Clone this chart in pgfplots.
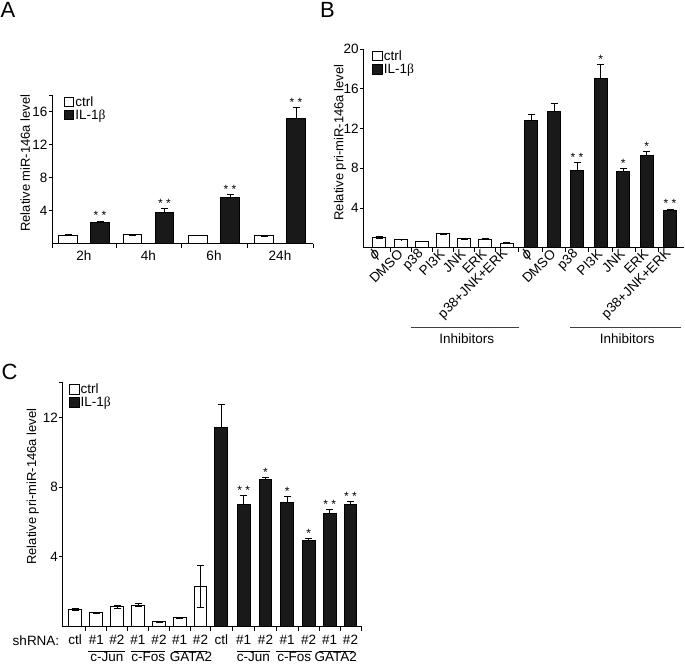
\documentclass[border=0pt]{standalone}
\usepackage{pgfplots}
\pgfplotsset{compat=1.18}
\usepackage{fontspec}
\setmainfont{Liberation Sans}
\newfontfamily\grk{Liberation Serif}
\newfontfamily\djs{DejaVu Sans}
\newcommand{\ILb}{IL-1{\grk β}}
\newcommand{\ph}{{\djs\itshape ϕ}}
\newcommand{\fs}{\fontsize{13.5}{16}\selectfont}

\pgfplotsset{
  legend image code/.code={\draw[#1, line width=0.9pt] (0pt,-4.7pt) rectangle (9.5pt,4.7pt);},
  panel/.style={
    scale only axis, anchor=south west,
    axis x line=bottom, axis y line=left,
    axis line style={-, line width=1pt},
    ymin=0,
    tick align=outside, major tick length=3.5pt, minor tick length=4pt,
    tick style={black, line width=1pt},
    major x tick style={draw=none},
    minor x tick style={draw=black, line width=1pt},
    tick label style={font=\fs},
    yticklabel style={inner sep=1pt},
    label style={font=\fontsize{13}{15}\selectfont},
    /pgf/number format/assume math mode=true,
    legend style={draw=none, fill=none, anchor=north west, inner sep=0pt,
                  font=\fs, row sep=0pt, nodes={inner sep=1pt}},
    legend cell align=left,
    clip=false,
  },
  ctrlbar/.style={ybar, bar shift=0pt, draw=black, fill=white, line width=1pt,
    error bars/y dir=both, error bars/y explicit,
    error bars/error bar style={line width=1pt, black},
    error bars/error mark options={rotate=90, mark size=3.5pt, line width=1pt, black}},
  ilbar/.style={ybar, bar shift=0pt, draw=black, fill=black!90, line width=1pt,
    error bars/y dir=plus, error bars/y explicit,
    error bars/error bar style={line width=1pt, black},
    error bars/error mark options={rotate=90, mark size=3.5pt, line width=1pt, black}},
  stars/.style={draw=none, mark=none, forget plot, nodes near coords,
    point meta=explicit symbolic, nodes near coords align={anchor=south},
    every node near coord/.append style={font=\fontsize{12}{12}\selectfont, inner sep=1pt}},
}

\begin{document}
\begin{tikzpicture}
\useasboundingbox (0pt,0pt) rectangle (685pt,664pt);

% ---------------- Panel A ----------------
\begin{axis}[panel, at={(52pt,420.3pt)}, width=261pt, height=148.5pt,
  xmin=52, xmax=313, ymax=18,
  xtick={84,148.5,214,280}, xticklabels={2h,4h,6h,24h},
  minor xtick={52,116,181,247,313},
  ytick={4,8,12,16}, extra y ticks={18}, extra y tick labels={},
  ylabel={Relative miR-146a level},
  ylabel style={at={(axis description cs:-0.103,0.543)}, anchor=center},
  legend style={at={(axis description cs:0.045,1.0)}},
]
\addplot[ctrlbar, bar width=18.5pt] coordinates {
  (68,1.05) +- (0,0.1) (132.5,1.1) +- (0,0.05) (198,1.0) +- (0,0.02) (264,0.95) +- (0,0.02)};
\addlegendentry{ctrl}
\addplot[ilbar, bar width=18.5pt] coordinates {
  (100,2.55) +- (0,0.2) (164.5,3.8) +- (0,0.48) (230,5.58) +- (0,0.4) (296,15.19) +- (0,1.29)};
\addlegendentry{\ILb}
\addplot[stars] coordinates {
  (100,2.75) [* *] (164.5,4.28) [* *] (230,5.98) [* *] (296,16.48) [* *]};
\end{axis}

% ---------------- Panel B ----------------
\begin{axis}[panel, at={(363.3pt,416.3pt)}, width=320.7pt, height=198.4pt,
  xmin=363.3, xmax=684, ymax=20,
  xtick={379,401.3,422.3,443,464,485,506.7,531,554,577,600.7,623.3,646.7,670},
  xticklabels={\ph,DMSO,p38,PI3K,JNK,ERK,p38+JNK+ERK,\ph,DMSO,p38,PI3K,JNK,ERK,p38+JNK+ERK},
  xticklabel style={rotate=45, anchor=east, inner sep=1pt},
  minor xtick={390.2,411.8,432.7,453.5,474.5,495.9,518.9,542.5,565.5,588.9,612,635,658.4},
  ytick={4,8,12,16,20},
  ylabel={Relative pri-miR-146a level},
  ylabel style={at={(axis description cs:-0.073,0.53)}, anchor=center},
  legend style={at={(axis description cs:0.028,1.0)}},
]
\addplot[ctrlbar, bar width=13.3pt] coordinates {
  (379,1.0) +- (0,0.1) (401.3,0.8) +- (0,0.02) (422.3,0.65) +- (0,0.02)
  (443,1.4) +- (0,0.08) (464,0.9) +- (0,0.06) (485,0.87) +- (0,0.02)
  (506.7,0.47) +- (0,0.02)};
\addlegendentry{ctrl}
\addplot[ilbar, bar width=13.3pt] coordinates {
  (531,12.8) +- (0,0.6) (554,13.7) +- (0,0.85) (577,7.83) +- (0,0.77)
  (600.7,17.04) +- (0,1.45) (623.3,7.66) +- (0,0.34) (646.7,9.34) +- (0,0.37)
  (670,3.7) +- (0,0.2)};
\addlegendentry{\ILb}
\addplot[stars] coordinates {
  (577,8.6) [* *] (600.7,18.49) [*] (623.3,8.0) [*] (646.7,9.71) [*] (670,3.9) [* *]};
\end{axis}

% ---------------- Panel C ----------------
\begin{axis}[panel, at={(62.5pt,37.3pt)}, width=299.2pt, height=244.1pt,
  xmin=62.5, xmax=361.7, ymax=14,
  xtick={75,96.3,117,138,159,179.7,200.5,221.3,243.7,265.5,287.2,308.7,329.7,350.5},
  xticklabels={ctl,\#1,\#2,\#1,\#2,\#1,\#2,ctl,\#1,\#2,\#1,\#2,\#1,\#2},
  xticklabel style={anchor=base, yshift=-14pt},
  minor xtick={85.7,106.7,127.5,148.5,169.4,190.1,210.9,232.5,254.6,276.4,298,319.2,340.1,361.5},
  ytick={4,8,12}, extra y ticks={14}, extra y tick labels={},
  ylabel={Relative pri-miR-146a level},
  ylabel style={at={(axis description cs:-0.099,0.574)}, anchor=center},
  legend style={at={(axis description cs:0.022,1.0)}},
]
\addplot[ctrlbar, bar width=12.7pt] coordinates {
  (75,0.99) +- (0,0.08) (96.3,0.8) +- (0,0.04) (117,1.13) +- (0,0.1)
  (138,1.24) +- (0,0.1) (159,0.29) +- (0,0.03) (179.7,0.52) +- (0,0.03)
  (200.5,2.29) +- (0,1.2)};
\addlegendentry{ctrl}
\addplot[ilbar, bar width=12.7pt] coordinates {
  (221.3,11.43) +- (0,1.34) (243.7,6.98) +- (0,0.53) (265.5,8.45) +- (0,0.12)
  (287.2,7.11) +- (0,0.33) (308.7,4.95) +- (0,0.12) (329.7,6.5) +- (0,0.23)
  (350.5,7.02) +- (0,0.17)};
\addlegendentry{\ILb}
\addplot[stars] coordinates {
  (243.7,7.51) [* *] (265.5,8.57) [*] (287.2,7.44) [*] (308.7,5.07) [*]
  (329.7,6.73) [* *] (350.5,7.19) [* *]};
\end{axis}

% ---------------- annotations ----------------
\node[anchor=base west, inner sep=0pt, font=\fontsize{22}{22}\selectfont] at (0.5pt,646.5pt) {A};
\node[anchor=base west, inner sep=0pt, font=\fontsize{22}{22}\selectfont] at (320pt,646.5pt) {B};
\node[anchor=base west, inner sep=0pt, font=\fontsize{22}{22}\selectfont] at (1.5pt,284pt) {C};

\draw[line width=1pt, black!75] (411pt,336.3pt) -- (519pt,336.3pt);
\draw[line width=1pt, black!75] (570pt,336.3pt) -- (680.7pt,336.3pt);
\node[font=\fs] at (466.7pt,325.7pt) {Inhibitors};
\node[font=\fs] at (627.3pt,325.7pt) {Inhibitors};

\node[font=\fs, anchor=base] at (36pt,19pt) {shRNA:};
\foreach \a/\b in {88/125,130.7/165,174/207.3,236.7/270,276/311.7,319.3/354}
  \draw[line width=0.9pt] (\a pt,13pt) -- (\b pt,13pt);
\foreach \x/\t in {107/c-Jun,148.3/c-Fos,191/GATA2,253.3/c-Jun,294.2/c-Fos,335.7/GATA2}
  \node[font=\fs, anchor=base] at (\x pt,2.5pt) {\t};
\end{tikzpicture}
\end{document}
